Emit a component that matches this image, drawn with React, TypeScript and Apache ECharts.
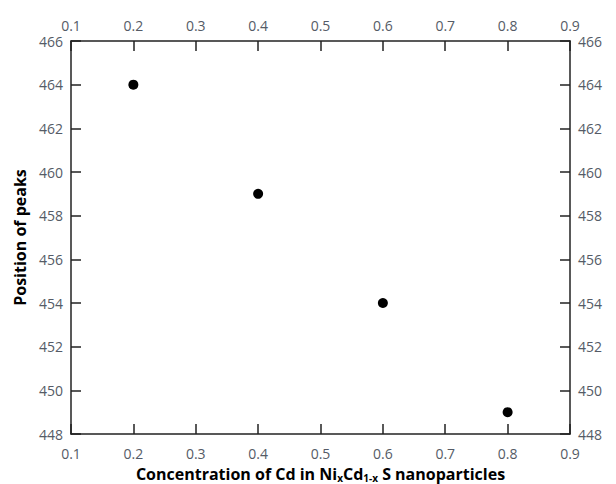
import React, { useEffect, useRef } from "react";
import * as echarts from "echarts";

const concentrations = [0.2, 0.4, 0.6, 0.8];
const peakPositions = [464, 459, 454, 449];

const labelColor = "#555b66";
const font = "Open Sans";

export default function App() {
  const ref = useRef<HTMLDivElement>(null);
  useEffect(() => {
    const chart = echarts.init(ref.current!, null, { renderer: "svg" });
    const axisCommon = {
      min: 0.1,
      max: 0.9,
      interval: 0.1,
      splitLine: { show: false },
      axisLine: { show: true, onZero: false, lineStyle: { color: "#222", width: 1.5 } },
      axisTick: { show: true, inside: true, length: 10, lineStyle: { color: "#222", width: 1.5 } },
      axisLabel: { color: labelColor, fontSize: 14, fontFamily: font, margin: 9, formatter: (v: number) => v.toFixed(1) },
    };
    const yCommon = {
      min: 448,
      max: 466,
      interval: 2,
      splitLine: { show: false },
      axisLine: { show: true, onZero: false, lineStyle: { color: "#222", width: 1.5 } },
      axisTick: { show: true, inside: true, length: 10, lineStyle: { color: "#222", width: 1.5 } },
      axisLabel: { color: labelColor, fontSize: 14, fontFamily: font, margin: 8 },
    };
    chart.setOption({
      animation: false,
      backgroundColor: "#fff",
      grid: { left: 71, right: 46, top: 41, bottom: 50, outerBoundsMode: "none", containLabel: false },
      xAxis: [
        {
          type: "value",
          position: "bottom",
          ...axisCommon,
          axisLabel: { ...axisCommon.axisLabel, margin: 12 },
          name: "{b|Concentration of Cd in Ni}{s|x}{b|Cd}{s|1-x}{b| S nanoparticles}",
          nameLocation: "middle",
          nameGap: 30,
          nameTextStyle: {
            lineHeight: 18,
            rich: {
              b: { fontSize: 16, lineHeight: 18, fontWeight: "bold", fontFamily: font, color: "#000" },
              s: { fontSize: 10, lineHeight: 12, fontWeight: "bold", fontFamily: font, color: "#000", verticalAlign: "bottom" },
            },
          },
        },
        { type: "value", position: "top", ...axisCommon },
      ],
      yAxis: [
        {
          type: "value",
          position: "left",
          ...yCommon,
          name: "Position of peaks",
          nameLocation: "middle",
          nameGap: 43,
          nameTextStyle: { fontSize: 16, fontWeight: "bold", fontFamily: font, color: "#000" },
        },
        { type: "value", position: "right", ...yCommon },
      ],
      series: [
        {
          type: "scatter",
          data: concentrations.map((c, i) => [c, peakPositions[i]]),
          symbol: "circle",
          symbolSize: 10,
          itemStyle: { color: "#000", opacity: 1 },
        },
      ],
    });
    return () => chart.dispose();
  }, []);
  return <div ref={ref} style={{ position: "absolute", left: 0, top: 0, width: 616, height: 484 }} />;
}
